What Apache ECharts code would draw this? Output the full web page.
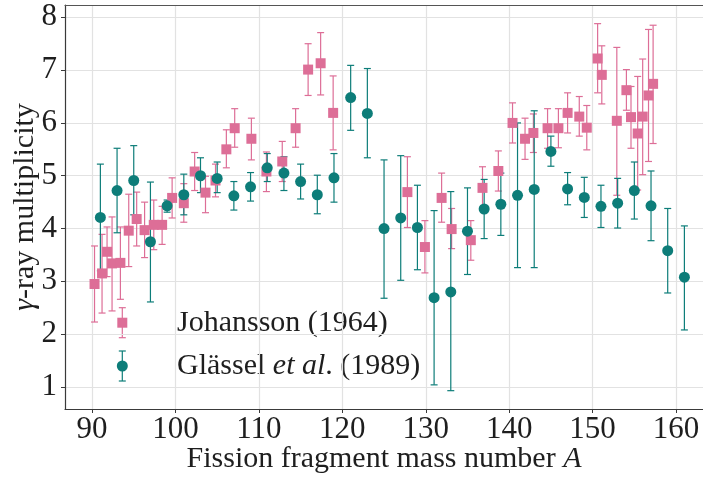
<!DOCTYPE html>
<html>
<head>
<meta charset="utf-8">
<script src="https://cdn.jsdelivr.net/npm/echarts@6/dist/echarts.min.js"></script>
<style>
  html, body { margin: 0; padding: 0; background: #fff; }
  #chart { width: 703px; height: 477px; }
</style>
</head>
<body>
<div id="chart"></div>
<script>
// Johansson (1964): mass number, multiplicity, lower and upper error limits
const johanssonA    = [90.3, 91.2, 91.8, 92.4, 93.4, 94.4, 95.35, 96.3, 97.4, 98.4, 99.6, 101.0, 102.3, 103.6, 104.8, 106.1, 107.1, 109.1, 110.9, 112.8, 114.4, 115.9, 117.4, 118.9, 127.8, 129.9, 131.9, 133.1, 135.4, 136.8, 138.7, 140.4, 141.9, 142.9, 144.6, 145.9, 147.0, 148.4, 149.3, 150.6, 151.1, 152.9, 154.05, 154.6, 155.4, 156.0, 156.7, 157.25];
const johanssonMult = [2.95, 3.15, 3.56, 3.34, 3.35, 3.96, 4.18, 3.97, 4.07, 4.07, 4.58, 4.48, 5.08, 4.68, 4.91, 5.50, 5.90, 5.70, 5.08, 5.27, 5.90, 7.01, 7.13, 6.19, 4.69, 3.65, 4.58, 3.99, 3.78, 4.77, 5.09, 6.00, 5.70, 5.81, 5.90, 5.90, 6.19, 6.12, 5.91, 7.22, 6.91, 6.04, 6.62, 6.11, 5.80, 6.12, 6.52, 6.74];
const johanssonLow  = [2.23, 2.40, 3.09, 2.44, 2.66, 3.28, 3.67, 3.45, 3.60, 3.70, 4.20, 4.12, 4.72, 4.30, 4.60, 5.15, 5.54, 5.30, 4.70, 4.89, 5.54, 6.52, 6.53, 5.49, 4.02, 3.16, 4.12, 3.62, 3.40, 4.36, 4.71, 5.62, 5.31, 5.44, 5.52, 5.53, 5.81, 5.75, 5.49, 6.57, 6.36, 4.63, 6.24, 5.52, 4.73, 5.02, 5.27, 5.61];
const johanssonHigh = [3.67, 3.89, 4.03, 4.22, 4.03, 4.65, 4.69, 4.50, 4.54, 4.42, 4.96, 4.85, 5.44, 4.99, 5.22, 5.87, 6.27, 6.09, 5.45, 5.65, 6.27, 7.50, 7.71, 6.89, 5.36, 4.15, 5.05, 4.38, 4.15, 5.17, 5.47, 6.38, 6.09, 6.17, 6.27, 6.27, 6.57, 6.50, 6.33, 7.88, 7.46, 7.43, 7.01, 6.69, 6.88, 7.21, 7.77, 7.85];

// Glässel et al. (1989)
const glasselA    = [91, 93, 95, 97, 99, 101, 103, 105, 107, 109, 111, 113, 115, 117, 119, 121, 123, 125, 127, 129, 131, 133, 135, 137, 139, 141, 143, 145, 147, 149, 151, 153, 155, 157, 159, 161];
const glasselMult = [4.21, 4.72, 4.91, 3.75, 4.43, 4.64, 5.00, 4.95, 4.62, 4.79, 5.15, 5.05, 4.89, 4.64, 4.96, 6.48, 6.18, 4.00, 4.20, 4.02, 2.69, 2.80, 3.95, 4.37, 4.46, 4.63, 4.74, 5.46, 4.75, 4.59, 4.42, 4.48, 4.72, 4.43, 3.58, 3.08];
const glasselLow  = [3.20, 3.92, 4.26, 2.61, 4.31, 4.26, 4.68, 4.68, 4.35, 4.52, 4.89, 4.72, 4.56, 4.28, 4.50, 5.86, 5.34, 2.68, 3.02, 3.22, 1.04, 0.93, 3.13, 3.81, 3.87, 3.26, 3.26, 5.18, 4.45, 4.21, 4.02, 4.01, 4.18, 3.77, 2.78, 2.08];
const glasselHigh = [5.22, 5.52, 5.57, 4.88, 4.54, 5.03, 5.34, 5.26, 4.89, 5.06, 5.42, 5.36, 5.22, 5.01, 5.42, 7.09, 7.03, 5.30, 5.38, 4.82, 4.34, 4.70, 4.77, 4.93, 5.05, 6.00, 6.23, 5.75, 5.06, 4.97, 4.82, 4.95, 5.26, 5.09, 4.38, 4.05];

const seriesNames = ['Johansson (1964)', 'Glässel et al. (1989)'];
const xTicks = [90, 100, 110, 120, 130, 140, 150, 160];
const yTicks = [1, 2, 3, 4, 5, 6, 7, 8];

const PINK = '#dd6e97';
const TEAL = '#0d7d79';
const FONT = 'Liberation Serif';
const TEXT = '#1e1e1e';
const AXIS = '#3a3a3a';
const GRID = '#e2e2e2';
const LABEL_SIZE = 31;
const TITLE_SIZE = 30;

const points = (xs, ys) => xs.map((x, i) => [x, ys[i]]);
const bars = (xs, lo, hi) => xs.map((x, i) => [x, lo[i], hi[i]]);

const CAP = 3.5;

// vertical error bar with short caps at both ends
function errorBar(color) {
  return function (params, api) {
    const x = api.value(0);
    const top = api.coord([x, api.value(2)]);
    const bot = api.coord([x, api.value(1)]);
    const style = { stroke: color, lineWidth: 1.2 };
    return {
      type: 'group',
      children: [
        { type: 'line', shape: { x1: top[0], y1: top[1], x2: bot[0], y2: bot[1] }, style: style },
        { type: 'line', shape: { x1: top[0] - CAP, y1: top[1], x2: top[0] + CAP, y2: top[1] }, style: style },
        { type: 'line', shape: { x1: bot[0] - CAP, y1: bot[1], x2: bot[0] + CAP, y2: bot[1] }, style: style }
      ]
    };
  };
}

// legend key: an error bar with the series marker on it
function legendKey(cx, cy, color, marker) {
  const style = { stroke: color, lineWidth: 1.2 };
  return [
    { type: 'line', shape: { x1: cx, y1: cy - 15, x2: cx, y2: cy + 15 }, style: style },
    { type: 'line', shape: { x1: cx - CAP, y1: cy - 15, x2: cx + CAP, y2: cy - 15 }, style: style },
    { type: 'line', shape: { x1: cx - CAP, y1: cy + 15, x2: cx + CAP, y2: cy + 15 }, style: style },
    marker === 'rect'
      ? { type: 'rect', shape: { x: cx - 5, y: cy - 5, width: 10, height: 10 }, style: { fill: color } }
      : { type: 'circle', shape: { cx: cx, cy: cy, r: 5.5 }, style: { fill: color } }
  ];
}

const legendTextStyle = {
  fill: TEXT,
  fontFamily: FONT,
  fontSize: TITLE_SIZE,
  verticalAlign: 'middle',
  align: 'left',
  rich: { it: { fontFamily: FONT, fontSize: TITLE_SIZE, fontStyle: 'italic', fill: TEXT } }
};

const chart = echarts.init(document.getElementById('chart'), null, { renderer: 'canvas' });

chart.setOption({
  animation: false,
  backgroundColor: '#ffffff',
  grid: { left: 65, right: 0, top: 5, bottom: 68, containLabel: false, outerBoundsMode: 'none' },
  xAxis: [{
    type: 'value',
    min: 86.76,
    max: 163.23,
    name: 'Fission fragment mass number {it|A}',
    nameLocation: 'middle',
    nameGap: 35,
    nameMoveOverlap: false,
    nameTextStyle: {
      fontFamily: FONT, fontSize: TITLE_SIZE, color: TEXT,
      rich: { it: { fontFamily: FONT, fontSize: TITLE_SIZE, fontStyle: 'italic', color: TEXT } }
    },
    axisLine: { show: true, lineStyle: { color: AXIS, width: 1.2 } },
    axisTick: { show: true, length: 4, lineStyle: { color: AXIS }, customValues: xTicks },
    axisLabel: { fontFamily: FONT, fontSize: LABEL_SIZE, color: TEXT, margin: 5, customValues: xTicks },
    splitLine: { show: true, lineStyle: { color: GRID, width: 1.2 } }
  }, {
    // top frame line
    type: 'value',
    position: 'top',
    min: 86.76,
    max: 163.23,
    axisLine: { show: true, lineStyle: { color: '#555', width: 1.2 } },
    axisTick: { show: false },
    axisLabel: { show: false },
    splitLine: { show: false }
  }],
  yAxis: {
    type: 'value',
    min: 0.583,
    max: 8.233,
    name: '{it|γ}-ray multiplicity',
    nameLocation: 'middle',
    nameGap: 25,
    nameMoveOverlap: false,
    nameTextStyle: {
      fontFamily: FONT, fontSize: TITLE_SIZE, color: TEXT,
      rich: { it: { fontFamily: FONT, fontSize: TITLE_SIZE, fontStyle: 'italic', color: TEXT } }
    },
    axisLine: { show: true, lineStyle: { color: AXIS, width: 1.2 } },
    axisTick: { show: true, length: 4, lineStyle: { color: AXIS }, customValues: yTicks },
    axisLabel: { fontFamily: FONT, fontSize: LABEL_SIZE, color: TEXT, margin: 8, customValues: yTicks },
    splitLine: { show: true, lineStyle: { color: GRID, width: 1.2 } }
  },
  graphic: [{
    type: 'group',
    z: 100,
    children: [
      { type: 'rect', shape: { x: 80, y: 300, width: 356, height: 85 }, style: { fill: 'rgba(255,255,255,0.75)' } }
    ]
      .concat(legendKey(122.3, 322.7, PINK, 'rect'))
      .concat(legendKey(122.3, 366, TEAL, 'circle'))
      .concat([
        { type: 'text', x: 177, y: 323, style: Object.assign({ text: seriesNames[0] }, legendTextStyle) },
        { type: 'text', x: 177, y: 366, style: Object.assign({ text: 'Glässel {it|et al}. (1989)' }, legendTextStyle) }
      ])
  }],
  series: [
    {
      name: seriesNames[0] + ' error',
      type: 'custom',
      z: 2,
      renderItem: errorBar(PINK),
      data: bars(johanssonA, johanssonLow, johanssonHigh),
      silent: true
    },
    {
      name: seriesNames[1] + ' error',
      type: 'custom',
      z: 3,
      renderItem: errorBar(TEAL),
      data: bars(glasselA, glasselLow, glasselHigh),
      silent: true
    },
    {
      name: seriesNames[0],
      type: 'scatter',
      z: 4,
      symbol: 'rect',
      symbolSize: 10,
      itemStyle: { color: PINK, opacity: 1 },
      data: points(johanssonA, johanssonMult)
    },
    {
      name: seriesNames[1],
      type: 'scatter',
      z: 5,
      symbol: 'circle',
      symbolSize: 11,
      itemStyle: { color: TEAL, opacity: 1 },
      data: points(glasselA, glasselMult)
    }
  ]
});
</script>
</body>
</html>
